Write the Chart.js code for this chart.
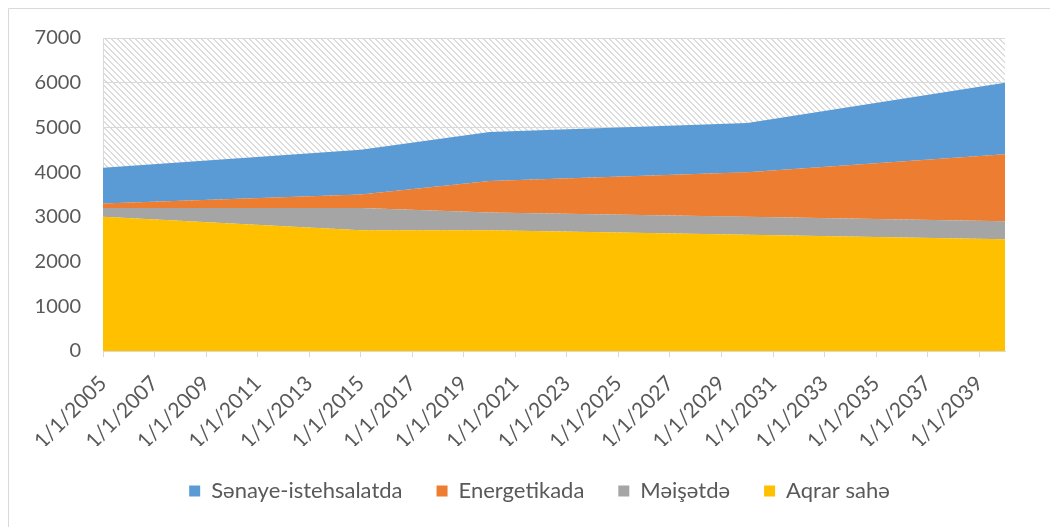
<!DOCTYPE html>
<html>
<head>
<meta charset="utf-8">
<script src="https://cdn.jsdelivr.net/npm/chart.js@4.4.0/dist/chart.umd.min.js"></script>
<style>
  body { margin: 0; background: #fff; }
</style>
</head>
<body>
<canvas id="myChart" width="1050" height="527"></canvas>
<script>
// data
const years = [2005, 2015, 2020, 2030, 2040];
const aqrar = [3000, 2700, 2700, 2600, 2500];
const meiset = [200, 500, 400, 400, 400];
const energetika = [100, 300, 700, 1000, 1500];
const senaye = [800, 1000, 1100, 1100, 1600];
const xTicks = [2005, 2007, 2009, 2011, 2013, 2015, 2017, 2019, 2021, 2023, 2025, 2027, 2029, 2031, 2033, 2035, 2037, 2039];
const yTicks = [0, 1000, 2000, 3000, 4000, 5000, 6000, 7000];

const textColor = '#595959';
const gridColor = '#d9d9d9';

function pts(vals) {
  return vals.map((v, i) => ({ x: years[i], y: v }));
}

// hatch for plot area
const tile = document.createElement('canvas');
tile.width = 6; tile.height = 6;
const tctx = tile.getContext('2d');
tctx.fillStyle = '#dddddd';
for (let i = 0; i < 6; i++) {
  tctx.fillRect(i, i, 1, 1);
  tctx.fillRect((i + 1) % 6, i, 1, 1);
}

const plotBg = {
  id: 'plotBg',
  afterLayout(chart) {
    // legend sits centred under the plot area, not the whole canvas
    chart.legend.left += 33;
    chart.legend.right += 33;
  },
  beforeDraw(chart) {
    const { ctx, chartArea: a } = chart;
    ctx.save();
    ctx.strokeStyle = gridColor;
    ctx.lineWidth = 1;
    ctx.beginPath();
    ctx.moveTo(8.5, 600);
    ctx.lineTo(8.5, 8.5);
    ctx.lineTo(1100, 8.5);
    ctx.stroke();
    ctx.fillStyle = ctx.createPattern(tile, 'repeat');
    ctx.fillRect(a.left, a.top, a.right - a.left, a.bottom - a.top);
    ctx.restore();
  }
};

function areaSet(label, vals, color, fill) {
  return {
    label,
    data: pts(vals),
    backgroundColor: color,
    borderColor: color,
    borderWidth: 0,
    pointRadius: 0,
    fill,
    tension: 0
  };
}

const data = {
  datasets: [
    areaSet('Aqrar sahə', aqrar, '#FFC000', 'origin'),
    areaSet('Məişətdə', meiset, '#A5A5A5', '-1'),
    areaSet('Energetikada', energetika, '#ED7D31', '-1'),
    areaSet('Sənaye-istehsalatda', senaye, '#5B9BD5', '-1')
  ]
};

const config = {
  type: 'line',
  data,
  plugins: [plotBg],
  options: {
    responsive: false,
    animation: false,
    layout: { padding: { left: 8, top: 38, right: 45, bottom: 15 } },
    scales: {
      x: {
        type: 'linear',
        min: 2005,
        max: 2040,
        afterBuildTicks: s => { s.ticks = xTicks.map(v => ({ value: v })); },
        grid: { drawOnChartArea: false, drawTicks: true, tickLength: 6, color: gridColor },
        border: { color: gridColor },
        ticks: {
          autoSkip: false,
          maxRotation: 45,
          minRotation: 45,
          color: textColor,
          padding: 14,
          font: { family: 'Lato', size: 21 },
          callback: v => '1/1/' + v
        },
        afterFit: s => { s.height = 95; }
      },
      y: {
        stacked: true,
        min: 0,
        max: 7000,
        afterBuildTicks: s => { s.ticks = yTicks.map(v => ({ value: v })); },
        grid: { color: gridColor, drawTicks: false },
        border: { color: gridColor },
        ticks: {
          color: textColor,
          padding: 22,
          font: { family: 'Lato', size: 20 },
          callback: v => String(v)
        },
        afterFit: s => { s.width = 95; }
      }
    },
    plugins: {
      legend: {
        position: 'bottom',
        reverse: true,
        labels: {
          color: textColor,
          boxWidth: 11,
          boxHeight: 11,
          padding: 34,
          font: { family: 'Lato', size: 22 }
        }
      },
      tooltip: { enabled: false }
    }
  }
};

const myChart = new Chart(document.getElementById('myChart'), config);
</script>
</body>
</html>
